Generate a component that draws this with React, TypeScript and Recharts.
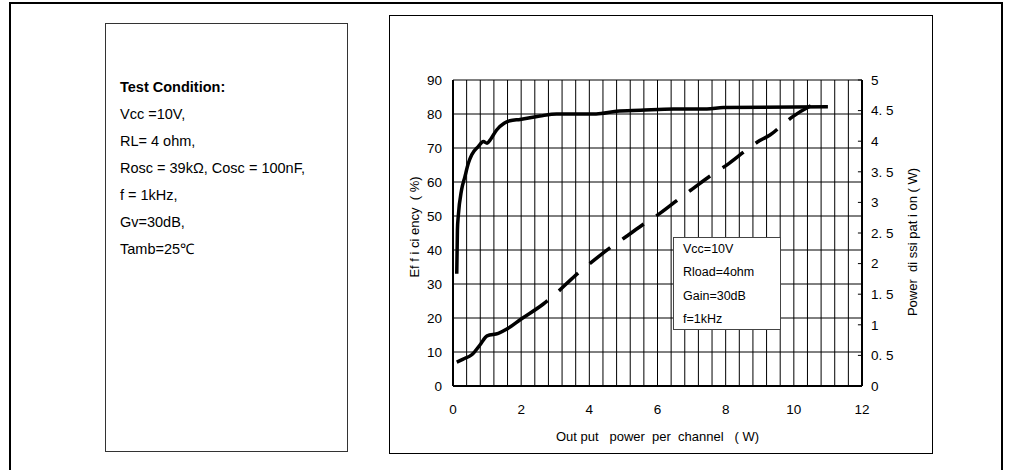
import React from 'react';
import { LineChart, Line, XAxis, YAxis, CartesianGrid, ReferenceLine } from 'recharts';

// efficiency (%) vs output power per channel (W)
const effPower = [0.11, 0.13, 0.155, 0.25, 0.35, 0.45, 0.55, 0.74, 0.89, 1.0, 1.1, 1.28, 1.5, 1.67, 1.97, 2.55, 3.04, 4.2, 4.8, 5.5, 6.47, 7.45, 7.93, 11.0];
const effValues = [33, 46, 50, 57.6, 61.6, 65.5, 68, 70.4, 71.9, 71.4, 72.5, 75.3, 77.3, 78, 78.4, 79.4, 80, 80, 80.8, 81.1, 81.5, 81.5, 81.9, 82.1];

// power dissipation (W) vs output power per channel (W)
const pdPower = [0.11, 0.3, 0.55, 0.79, 1.0, 1.33, 1.58, 1.99, 2.65, 3.0, 3.58, 3.97, 4.66, 5.0, 5.63, 6.07, 6.66, 7.0, 7.59, 8.03, 8.62, 9.0, 9.3, 9.69, 9.99, 10.67];
const pdValues = [0.39, 0.44, 0.51, 0.67, 0.82, 0.86, 0.93, 1.09, 1.34, 1.5, 1.8, 1.98, 2.28, 2.41, 2.66, 2.82, 3.07, 3.21, 3.45, 3.61, 3.86, 4.01, 4.1, 4.28, 4.41, 4.63];

const xTicks = [0, 2, 4, 6, 8, 10, 12];
const leftTicks = [0, 10, 20, 30, 40, 50, 60, 70, 80, 90];
const rightTicks = [0, 0.5, 1, 1.5, 2, 2.5, 3, 3.5, 4, 4.5, 5];
const rightTickLabels = ['0', '0. 5', '1', '1. 5', '2', '2. 5', '3', '3. 5', '4', '4. 5', '5'];
const gridX = Array.from({ length: 29 }, (_, i) => +(0.4 * (i + 1)).toFixed(1));

const testConditions = ['Vcc =10V,', 'RL= 4 ohm,', 'Rosc = 39k\u03A9, Cosc = 100nF,', 'f = 1kHz,', 'Gv=30dB,', 'Tamb=25\u2103'];
const legendLines = ['Vcc=10V', 'Rload=4ohm', 'Gain=30dB', 'f=1kHz'];

const effData = effPower.map((p, i) => ({ p, eff: effValues[i] }));
const pdData = pdPower.map((p, i) => ({ p, pd: pdValues[i] }));

const FONT = '"Liberation Sans", Arial, sans-serif';
const tickStyle = { fontSize: 13.5, fill: '#000', fontFamily: FONT };

const dashes = '112 15 ' + Array(14).fill('26 15').join(' ');

const leftTitle = (props: any) => {
  const { x, y, height } = props.viewBox;
  const cx = x + 25;
  const cy = y + height / 2 - 6;
  return (
    <text x={cx} y={cy} transform={`rotate(-90 ${cx} ${cy})`} textAnchor="middle" dy="0.35em"
      style={{ fontSize: 13, fontFamily: FONT, whiteSpace: 'pre' }} fill="#000">
      {'Ef f i ci ency  ( %)'}
    </text>
  );
};

const rightTitle = (props: any) => {
  const { x, y, height } = props.viewBox;
  const cx = x + 50;
  const cy = y + height / 2 + 9;
  return (
    <text x={cx} y={cy} transform={`rotate(-90 ${cx} ${cy})`} textAnchor="middle" dy="0.35em"
      style={{ fontSize: 13, fontFamily: FONT, whiteSpace: 'pre' }} fill="#000">
      {'Power  di ssi pat i on ( W)'}
    </text>
  );
};

const bottomTitle = (props: any) => {
  const { x, y, width } = props.viewBox;
  return (
    <text x={x + width / 2} y={y + 50} textAnchor="middle" dy="0.35em"
      style={{ fontSize: 13, fontFamily: FONT, whiteSpace: 'pre' }} fill="#000">
      {'Out put   power  per  channel   ( W)'}
    </text>
  );
};

export default function App() {
  return (
    <div style={{ position: 'absolute', left: 0, top: 0, width: 1016, height: 470, background: '#fff', fontFamily: FONT }}>
      {/* outer frame */}
      <div style={{ position: 'absolute', left: 9, top: 2, width: 994, height: 2, background: '#000' }} />
      <div style={{ position: 'absolute', left: 9, top: 2, width: 2, height: 468, background: '#000' }} />
      <div style={{ position: 'absolute', left: 1001, top: 2, width: 2, height: 468, background: '#000' }} />

      {/* test condition panel */}
      <div style={{ position: 'absolute', left: 105, top: 23, width: 241, height: 427, border: '1px solid #333' }} />
      <div style={{ position: 'absolute', left: 120, top: 74, fontSize: 14.5, lineHeight: '27px', color: '#000' }}>
        <div style={{ fontWeight: 'bold' }}>Test Condition:</div>
        {testConditions.map((t) => (
          <div key={t}>{t}</div>
        ))}
      </div>

      {/* chart frame */}
      <div style={{ position: 'absolute', left: 389, top: 15, width: 542, height: 437, border: '1px solid #000' }} />
      <div style={{ position: 'absolute', left: 389, top: 15 }}>
        <LineChart width={544} height={438} margin={{ top: 65, right: 0, bottom: 0, left: 0 }}>
          <CartesianGrid yAxisId="left" vertical={false} stroke="#000" strokeWidth={1} />
          <XAxis dataKey="p" type="number" domain={[0, 12]} ticks={xTicks} height={67}
            tick={tickStyle} tickLine={false} tickMargin={12}
            axisLine={{ stroke: '#000', strokeWidth: 2 }} label={bottomTitle} />
          <YAxis yAxisId="left" domain={[0, 90]} ticks={leftTicks} width={64}
            tick={tickStyle} tickLine={false} tickMargin={5}
            axisLine={{ stroke: '#000', strokeWidth: 2 }} label={leftTitle} />
          <YAxis yAxisId="right" orientation="right" domain={[0, 5]} ticks={rightTicks} width={71}
            tick={tickStyle} tickLine={false} tickMargin={3}
            tickFormatter={(v: number) => rightTickLabels[rightTicks.indexOf(v)] ?? String(v)}
            axisLine={{ stroke: '#000', strokeWidth: 2 }} label={rightTitle} />
          {gridX.map((g) => (
            <ReferenceLine key={g} yAxisId="left" x={g} stroke="#000" strokeWidth={1} ifOverflow="visible" />
          ))}
          {rightTicks.map((t) => (
            <ReferenceLine key={'rt' + t} yAxisId="right" segment={[{ x: 11.88, y: t }, { x: 12, y: t }]} stroke="#000" strokeWidth={1} ifOverflow="visible" />
          ))}
          <Line yAxisId="left" data={effData} dataKey="eff" type="monotone" stroke="#000" strokeWidth={3.5}
            dot={false} activeDot={false} isAnimationActive={false} />
          <Line yAxisId="right" data={pdData} dataKey="pd" type="monotone" stroke="#000" strokeWidth={3.5}
            strokeDasharray={dashes} dot={false} activeDot={false} isAnimationActive={false} />
        </LineChart>
      </div>

      {/* legend box */}
      <div style={{ position: 'absolute', left: 673, top: 237, width: 106, height: 91, border: '1px solid #444', background: '#fff', zIndex: 2 }}>
        <div style={{ paddingLeft: 9, fontSize: 12.5, lineHeight: '23.3px', color: '#000' }}>
          {legendLines.map((t) => (
            <div key={t}>{t}</div>
          ))}
        </div>
      </div>
    </div>
  );
}
